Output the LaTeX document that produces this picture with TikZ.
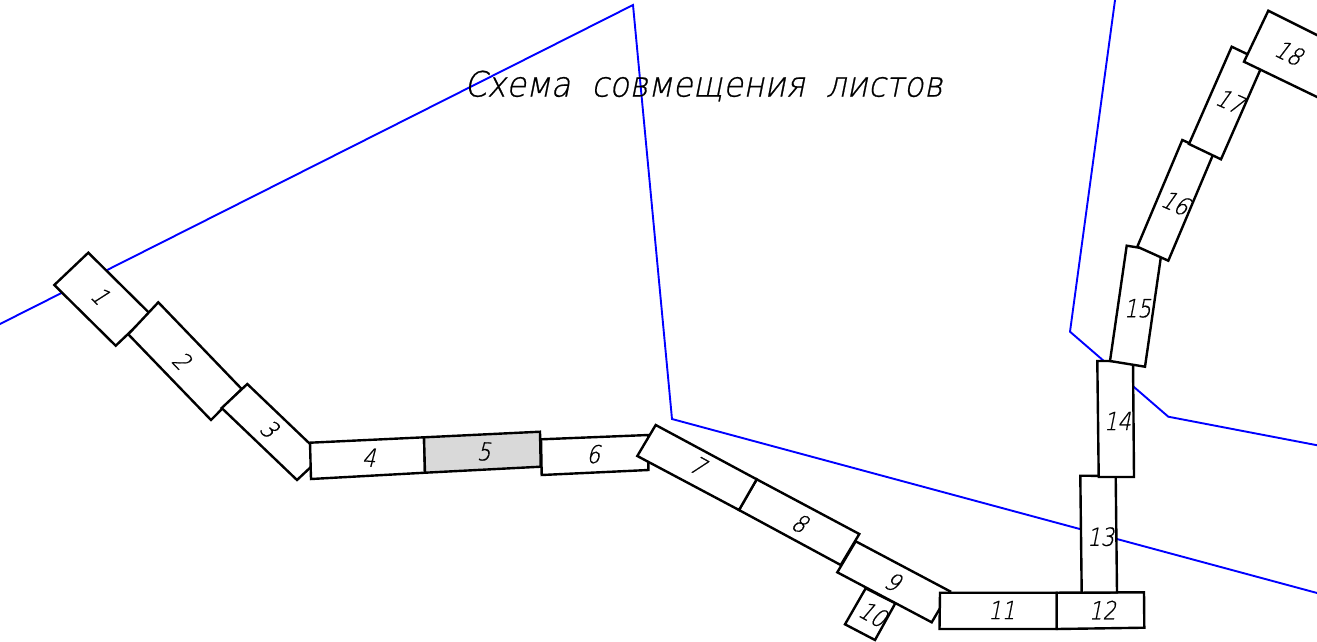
\documentclass[tikz,border=0pt]{standalone}
\usepackage{fontspec}
\newfontfamily\plainfont[FakeSlant=0.2,FakeStretch=0.85,FakeBold=0.6]{DejaVu Sans ExtraLight}
\newfontfamily\titlefont[FakeSlant=0.2,FakeStretch=0.92,FakeBold=0.6,LetterSpace=0.6,WordSpace=2]{DejaVu Sans ExtraLight}
\tikzset{
  sheet/.style={draw=black,fill=white,line width=2.4pt,line join=miter},
  graysheet/.style={sheet,fill=black!15},
  border/.style={draw=blue,line width=1.9pt,line join=miter},
  num/.style={font=\plainfont\fontsize{25}{25}\selectfont,inner sep=0pt,text=black},
  heading/.style={font=\titlefont\fontsize{35}{35}\selectfont,inner sep=0pt,text=black,anchor=center}
}
\begin{document}
\begin{tikzpicture}[x=1pt,y=-1pt]
\useasboundingbox (0,0) rectangle (1317,641);
\clip (0,0) rectangle (1317,641);
\fill[white] (0,0) rectangle (1317,641);
% survey boundaries
\draw[border] (-2,325) -- (633,5) -- (672,419) -- (1319,593.5);
\draw[border] (1115.3,-2) -- (1070,331.7) -- (1168.3,416.7) -- (1319,445.6);
% sheets
\path[sheet] (88.3,252.7) -- (149.7,313.4) -- (115.7,345.7) -- (54.3,285) -- cycle;
\path[sheet] (158.3,302.3) -- (241.7,389) -- (211,420) -- (128.3,334.3) -- cycle;
\path[sheet] (247.3,384) -- (322.6,456) -- (297,480) -- (221.7,408) -- cycle;
\path[sheet] (310,442.7) -- (424,437.3) -- (425,472.7) -- (311,479) -- cycle;
\path[graysheet] (424,437.3) -- (540,431.7) -- (540.7,466.7) -- (425,472.7) -- cycle;
\path[sheet] (541,439.3) -- (648.3,435) -- (648.3,470) -- (541.7,475) -- cycle;
\path[sheet] (865.7,588.3) -- (895.3,603.3) -- (875,640) -- (845,624.3) -- cycle;
\path[sheet] (855.7,541.3) -- (950,591.3) -- (931.7,622.3) -- (837.3,572.3) -- cycle;
\path[sheet] (756.7,479.3) -- (859.3,534) -- (840.7,565) -- (739,510) -- cycle;
\path[sheet] (655.7,425) -- (756.7,479.3) -- (739,510) -- (637.3,456) -- cycle;
\path[sheet] (940,592.7) -- (1056.7,592.7) -- (1056.7,629) -- (939.5,629) -- cycle;
\path[sheet] (1056.7,592.7) -- (1144,592.3) -- (1144.3,627.7) -- (1056.7,629) -- cycle;
\path[sheet] (1080.3,475.7) -- (1115.7,476) -- (1117,592.5) -- (1081.7,592.7) -- cycle;
\path[sheet] (1097.3,361) -- (1133,361) -- (1134,477) -- (1098.7,477) -- cycle;
\path[sheet] (1126.7,245.7) -- (1161.7,251.3) -- (1145,366.7) -- (1110,361) -- cycle;
\path[sheet] (1182.3,140) -- (1213.3,154) -- (1168.3,260.7) -- (1137.3,246.7) -- cycle;
\path[sheet] (1231.7,46.7) -- (1263.7,62) -- (1221,159.3) -- (1189,144) -- cycle;
\path[sheet] (1268.3,10.7) -- (1368.3,60.7) -- (1344,110) -- (1244,61.7) -- cycle;
% sheet numbers
\node[num,rotate=-46] (n1) at (100.5,295.5) {1};
\node[num,rotate=-46] (n2) at (182,360.2) {2};
\node[num,rotate=-44] (n3) at (269.5,428.5) {3};
\node[num,rotate=-3] (n4) at (369,457.5) {4};
\node[num,rotate=-3] (n5) at (484,451.5) {5};
\node[num,rotate=-3] (n6) at (593.5,454) {6};
\node[num,rotate=-29] (n7) at (698,465.5) {7};
\node[num,rotate=-29] (n8) at (800,523) {8};
\node[num,rotate=-29] (n9) at (893,581.5) {9};
\node[num,rotate=-29] (n10) at (873,614) {10};
\node[num] (n11) at (1001.7,610) {11};
\node[num] (n12) at (1102.5,610) {12};
\node[num] (n13) at (1100.7,536.7) {13};
\node[num] (n14) at (1117.5,421) {14};
\node[num] (n15) at (1137.5,308.3) {15};
\node[num,rotate=-24] (n16) at (1175.5,202.7) {16};
\node[num,rotate=-24] (n17) at (1230,101) {17};
\node[num,rotate=-26] (n18) at (1289,52.7) {18};
% title
\node[heading] (title) at (703.5,86) {Схема совмещения листов};
\end{tikzpicture}
\end{document}
